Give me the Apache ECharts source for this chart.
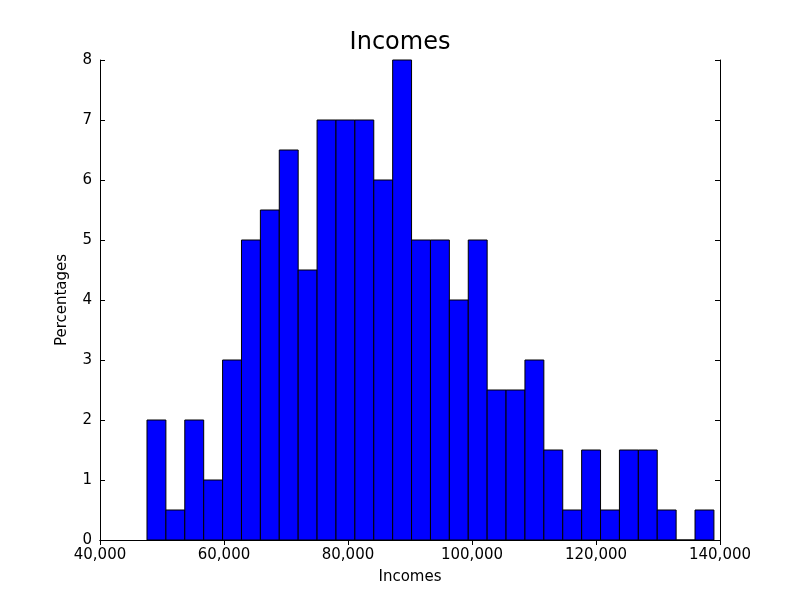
<!DOCTYPE html>
<html><head><meta charset="utf-8">
<script src="https://cdn.jsdelivr.net/npm/echarts@6/dist/echarts.min.js"></script>
<style>html,body{margin:0;background:#fff}#c{width:800px;height:600px}</style>
</head><body><div id="c"></div>
<script>
const binStart = 47580;
const binWidth = 3048;
const values = [2,0.5,2,1,3,5,5.5,6.5,4.5,7,7,7,6,8,5,5,4,5,2.5,2.5,3,1.5,0.5,1.5,0.5,1.5,1.5,0.5,0,0.5];
const xTicks = [40000,60000,80000,100000,120000,140000];
const data = values.map((v,i)=>[binStart+i*binWidth, binStart+(i+1)*binWidth, v]);
const font = 'DejaVu Sans';
const axBase = {axisLine:{show:true,lineStyle:{color:'#000'}},splitLine:{show:false},
  axisTick:{show:true,inside:true,length:5,lineStyle:{color:'#000'}}};
const chart = echarts.init(document.getElementById('c'));
chart.setOption({
  animation:false,
  title:{text:'Incomes',left:'center',top:26,textStyle:{fontFamily:font,fontSize:24,fontWeight:'normal',color:'#000'}},
  grid:{left:100,right:80,top:60,bottom:60},
  xAxis:[
    Object.assign({type:'value',min:40000,max:140000,interval:20000,position:'bottom',
      name:'Incomes',nameLocation:'middle',nameGap:30,nameTextStyle:{fontFamily:font,fontSize:15,color:'#000'},
      axisLabel:{fontFamily:font,fontSize:15,color:'#000',margin:8}},axBase),
    Object.assign({type:'value',min:40000,max:140000,interval:20000,position:'top',axisLabel:{show:false}},axBase)
  ],
  yAxis:[
    Object.assign({type:'value',min:0,max:8,interval:1,position:'left',
      name:'Percentages',nameLocation:'middle',nameGap:30,nameTextStyle:{fontFamily:font,fontSize:15,color:'#000'},
      axisLabel:{fontFamily:font,fontSize:15,color:'#000',margin:8}},axBase),
    Object.assign({type:'value',min:0,max:8,interval:1,position:'right',axisLabel:{show:false}},axBase)
  ],
  series:[{
    type:'custom',
    data:data,
    encode:{x:[0,1],y:2},
    renderItem:function(params,api){
      const p0=api.coord([api.value(0),api.value(2)]);
      const p1=api.coord([api.value(1),0]);
      return {type:'rect',shape:{x:p0[0],y:p0[1],width:p1[0]-p0[0],height:p1[1]-p0[1]},
        style:{fill:'#0000ff',stroke:'#000',lineWidth:1}};
    }
  }]
});
</script></body></html>
